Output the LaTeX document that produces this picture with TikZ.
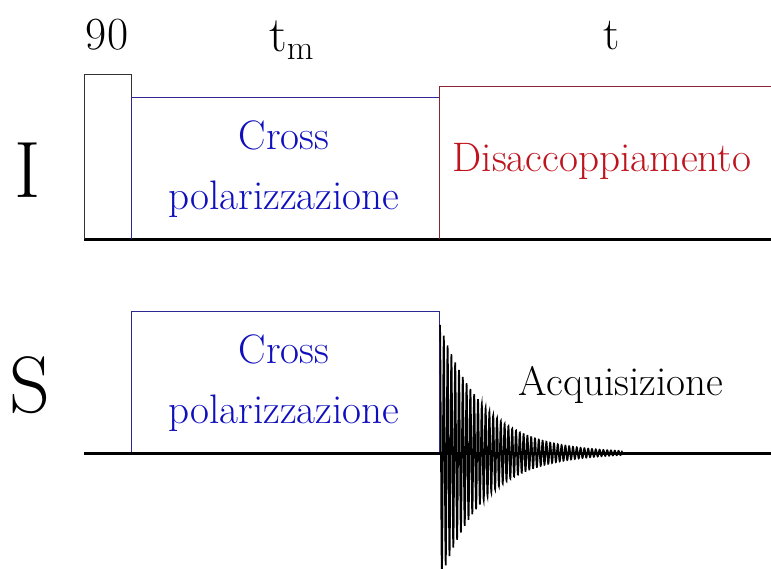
\documentclass[tikz,border=0pt]{standalone}
\usepackage{amsmath}
\usepackage{xcolor}
\usepackage{tikz}
\usetikzlibrary{positioning, calc}
\definecolor{boxblue}{RGB}{45,40,150}
\definecolor{boxred}{RGB}{140,35,50}
\definecolor{txtblue}{RGB}{15,15,190}
\definecolor{txtred}{RGB}{190,20,30}

\begin{document}
\begin{tikzpicture}[x=0.5pt, y=-0.5pt,
  axisline/.style={line width=1.5pt, black},
  pulse/.style={line width=0.5pt},
  bigtxt/.style={font=\fontsize{40}{48}\selectfont},
  toptxt/.style={font=\fontsize{23}{28}\selectfont},
  boxtxt/.style={font=\fontsize{20.6}{30}\selectfont, align=center},
  fid/.style={line width=0.8pt, black}]
  \useasboundingbox (0,0) rectangle (771,568);
  % I channel
  \draw[axisline] (84,239) -- (771,239);
  \draw[pulse, black!80] (84,239) -- (84,74) -- (131,74) -- (131,239);
  \draw[pulse, boxblue] (131,239) -- (131,97) -- (439,97) -- (439,239);
  \draw[pulse, boxred] (439,239) -- (439,86) -- (771,86);
  % S channel
  \draw[pulse, boxblue] (131,453) -- (131,311) -- (439,311) -- (439,453);
  \draw[fid] plot[domain=0:48, samples=960]
    ({440+3.8*\x}, {453 - 128*exp(-\x*3.8/44)*cos(360*(\x-floor(\x)))});
  \draw[axisline] (84,453) -- (771,453);
  % labels
  \node[bigtxt] (labI) at (28,170) {I};
  \node[bigtxt] (labS) at (30,385) {S};
  \node[toptxt] (ninety) at (107,35) {90};
  \node[toptxt] (tmix) at (292,40) {$\mathrm{t}_{\mathrm{m}}$};
  \node[toptxt] (tacq) at (612,36) {t};
  \node[boxtxt, text=txtblue] (cpI) at (284,169) {Cross\\polarizzazione};
  \node[boxtxt, text=txtblue] (cpS) at (284,383) {Cross\\polarizzazione};
  \node[boxtxt, text=txtred] (dec) at (602,161) {Disaccoppiamento};
  \node[boxtxt] (acq) at (621,385) {Acquisizione};
\end{tikzpicture}
\end{document}
